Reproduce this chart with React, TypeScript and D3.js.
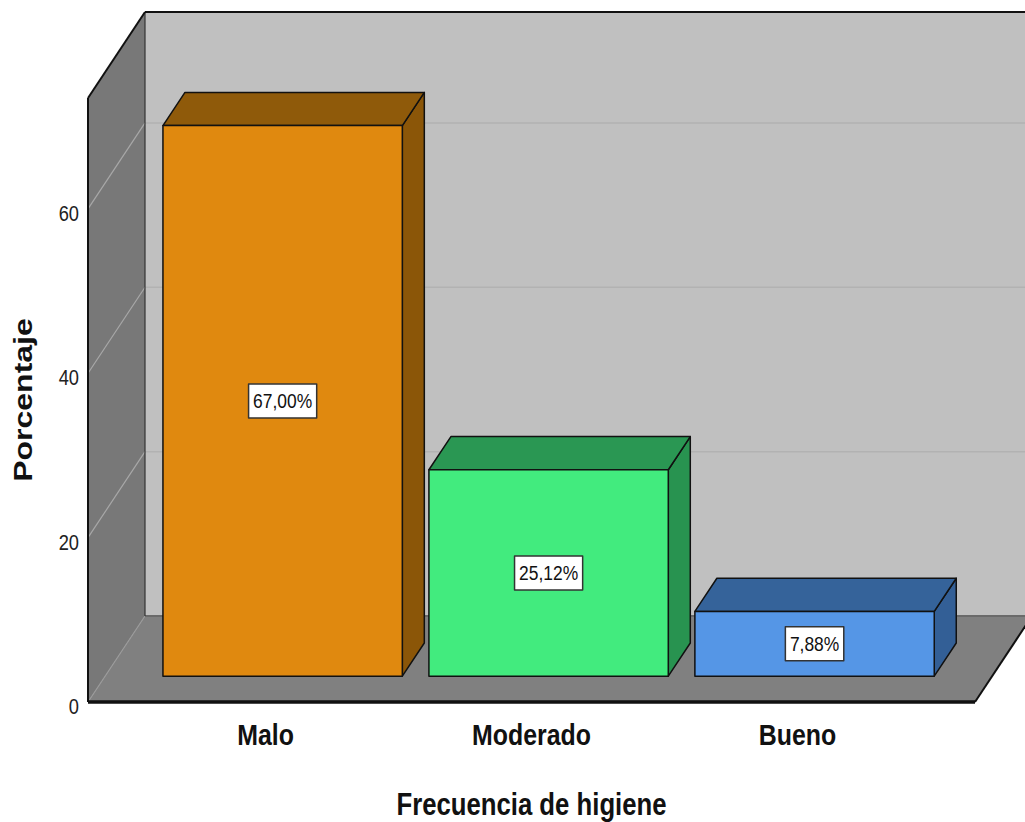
import React from "react";
import * as d3 from "d3";

const categories = ["Malo", "Moderado", "Bueno"];
const percentages = [67.0, 25.12, 7.88];
const valueLabels = ["67,00%", "25,12%", "7,88%"];
const yTicks = [0, 20, 40, 60];
const frontColors = ["#E0890F", "#42EB7E", "#5596E6"];
const topColors = ["#8F5A0A", "#2A9753", "#35639A"];
const sideColors = ["#8B5608", "#289350", "#335F96"];

const W = 1025;
const H = 822;
const DX = 57;
const DY = 86;
const ZF = 0.3;
const ZB = 0.686;
const SX = 0.83;
const FONT = "'Liberation Sans', Arial, Helvetica, sans-serif";

const charW: Record<string, number> = { ",": 0.278, "%": 0.889 };
const textWidth = (s: string, size: number) =>
  s.split("").reduce((a, c) => a + (charW[c] ?? 0.556), 0) * size * SX;

export default function App() {
  const y = d3.scaleLinear().domain([0, 73.5]).range([702, 98]);
  const x = d3
    .scaleBand<string>()
    .domain(categories)
    .range([88, 975])
    .paddingInner(0.1)
    .paddingOuter(0.2175);
  const bw = x.bandwidth();
  const x0 = 88;
  const x1 = 975;
  const yTop = y(73.5);
  const y0 = y(0);
  const pts = (p: number[][]) => p.map((q) => q.join(",")).join(" ");
  const fdx = ZF * DX;
  const fdy = ZF * DY;
  const ddx = (ZB - ZF) * DX;
  const ddy = (ZB - ZF) * DY;

  return (
    <svg
      width={W}
      height={H}
      style={{ position: "absolute", left: 0, top: 0, background: "#fff" }}
      fontFamily={FONT}
    >
      <rect x={x0 + DX} y={yTop - DY} width={W} height={y0 - yTop} fill="#C0C0C0" />
      <polygon
        points={pts([
          [x0, yTop],
          [x0 + DX, yTop - DY],
          [x0 + DX, y0 - DY],
          [x0, y0],
        ])}
        fill="#787878"
      />
      <polygon
        points={pts([
          [x0, y0],
          [x1, y0],
          [x1 + DX, y0 - DY],
          [x0 + DX, y0 - DY],
        ])}
        fill="#808080"
      />
      {yTicks.map((t) => (
        <g key={"g" + t}>
          <line
            x1={x0}
            y1={y(t)}
            x2={x0 + DX}
            y2={y(t) - DY}
            stroke={t === 0 ? "#9a9a9a" : "#a8a8a8"}
            strokeWidth={1.2}
          />
          {t > 0 && (
            <line
              x1={x0 + DX}
              y1={y(t) - DY}
              x2={W}
              y2={y(t) - DY}
              stroke="#B2B2B2"
              strokeWidth={1.5}
            />
          )}
        </g>
      ))}
      <line x1={x0 + DX} y1={y0 - DY} x2={W} y2={y0 - DY} stroke="#6a6a6a" strokeWidth={2} />
      <line x1={x0 + DX} y1={yTop - DY} x2={x0 + DX} y2={y0 - DY} stroke="#333" strokeWidth={1.2} />
      <line x1={x0 + DX} y1={yTop - DY} x2={W} y2={yTop - DY} stroke="#111" strokeWidth={2} />
      <line x1={x0} y1={yTop} x2={x0 + DX} y2={yTop - DY} stroke="#111" strokeWidth={2} />
      <line x1={x0} y1={yTop} x2={x0} y2={y0} stroke="#111" strokeWidth={2} />
      <line x1={x1} y1={y0} x2={x1 + DX} y2={y0 - DY} stroke="#111" strokeWidth={2} />
      <line x1={x0} y1={y0} x2={x1} y2={y0} stroke="#111" strokeWidth={3.5} />

      {categories.map((c, i) => {
        const v = percentages[i];
        const fx0 = (x(c) as number) + fdx;
        const fx1 = fx0 + bw;
        const ft = y(v) - fdy;
        const fb = y(0) - fdy;
        const lw = textWidth(valueLabels[i], 21) + 9;
        const cx = (fx0 + fx1) / 2;
        const cy = (ft + fb) / 2;
        return (
          <g key={c} stroke="#111" strokeWidth={1.5} strokeLinejoin="round">
            <polygon
              points={pts([
                [fx1, ft],
                [fx1 + ddx, ft - ddy],
                [fx1 + ddx, fb - ddy],
                [fx1, fb],
              ])}
              fill={sideColors[i]}
            />
            <polygon
              points={pts([
                [fx0, ft],
                [fx0 + ddx, ft - ddy],
                [fx1 + ddx, ft - ddy],
                [fx1, ft],
              ])}
              fill={topColors[i]}
            />
            <rect x={fx0} y={ft} width={bw} height={fb - ft} fill={frontColors[i]} />
            <rect
              x={cx - lw / 2}
              y={cy - 17}
              width={lw}
              height={34}
              fill="#fff"
              stroke="#333"
              strokeWidth={1.5}
            />
            <text
              transform={`translate(${cx},${cy + 7.5}) scale(${SX},1)`}
              textAnchor="middle"
              fontSize={21}
              fill="#111"
              stroke="none"
            >
              {valueLabels[i]}
            </text>
          </g>
        );
      })}

      {yTicks.map((t) => (
        <text
          key={"t" + t}
          transform={`translate(79,${y(t) + 12}) scale(${SX},1)`}
          textAnchor="end"
          fontSize={22}
          fill="#222"
        >
          {t}
        </text>
      ))}

      {categories.map((c) => (
        <text
          key={"l" + c}
          transform={`translate(${(x(c) as number) + bw / 2},745) scale(${SX},1)`}
          textAnchor="middle"
          fontSize={30}
          fontWeight="bold"
          fill="#111"
        >
          {c}
        </text>
      ))}

      <text
        transform={`translate(${(x0 + x1) / 2},815) scale(${SX},1)`}
        textAnchor="middle"
        fontSize={31}
        fontWeight="bold"
        fill="#111"
      >
        Frecuencia de higiene
      </text>
      <text
        transform={`translate(32,400) scale(${SX},1) rotate(-90)`}
        textAnchor="middle"
        fontSize={32}
        fontWeight="bold"
        fill="#111"
      >
        Porcentaje
      </text>
    </svg>
  );
}
